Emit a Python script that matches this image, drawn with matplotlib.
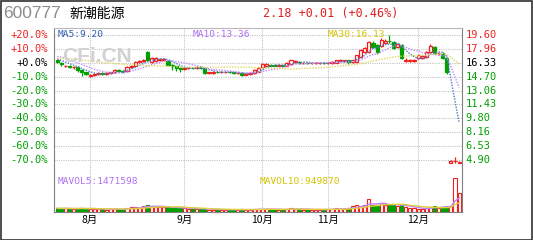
import matplotlib
matplotlib.use("Agg")
import matplotlib.pyplot as plt
from matplotlib.patches import Rectangle
import numpy as np
import pandas as pd

# Data (price levels in yuan, volume in shares)
base_price = 16.33
pct_labels = ["+20.0%", "+10.0%", "+0.0%", "-10.0%", "-20.0%", "-30.0%",
              "-40.0%", "-50.0%", "-60.0%", "-70.0%"]
price_labels = ["19.60", "17.96", "16.33", "14.70", "13.06", "11.43",
                "9.80", "8.16", "6.53", "4.90"]
price_levels = [19.60, 17.96, 16.33, 14.70, 13.06, 11.43, 9.80, 8.16, 6.53, 4.90]

month_start = [8, 31, 50, 66, 88]
month_labels = ["8月", "9月", "10月", "11月", "12月"]

# closes before the visible window, needed for the moving averages
prior_closes = [16.5, 16.6, 16.8, 16.9, 17.0, 16.7, 16.4, 16.3, 16.6, 16.9,
                17.1, 16.8, 16.5, 16.4, 16.6, 16.9, 17.0, 17.2, 16.9, 16.8,
                17.2, 17.5, 17.6, 17.4, 17.3, 17.0, 16.9, 16.7, 16.8]
prior_volumes = [380000, 420000, 350000, 400000, 450000, 380000, 330000, 400000, 360000]

open_ = [16.6, 16.3, 15.9, 16.0, 15.8, 15.8, 15.5, 15.2, 14.8, 14.9,
         15.0, 15.1, 15.0, 15.1, 15.2, 15.5, 15.4, 15.4, 15.8, 16.0,
         16.4, 16.5, 17.6, 16.4, 16.5, 16.6, 16.6, 16.5, 16.1, 15.9,
         15.7, 15.6, 15.7, 15.75, 15.7, 15.8, 15.7, 15.1, 15.15, 15.25,
         15.2, 15.2, 15.3, 15.2, 15.1, 15.15, 14.9, 15.0, 15.1, 15.3,
         15.8, 16.0, 16.1, 16.05, 16.0, 16.05, 16.0, 16.2, 16.4, 16.4,
         16.3, 16.3, 16.25, 16.3, 16.3, 16.35, 16.3, 16.3, 16.35, 16.5,
         16.55, 16.6, 16.4, 16.4, 17.0, 17.6, 17.6, 18.7, 18.4, 18.3,
         18.7, 18.95, 18.8, 18.2, 18.4, 16.5, 16.5, 16.5, 16.9, 16.9,
         17.0, 17.6, 18.2, 17.45, 17.4, 16.9, 4.6, 4.75, 4.6]
close = [16.4, 16.2, 16.0, 15.8, 15.8, 15.5, 15.2, 15.0, 14.9, 15.0,
         15.1, 15.0, 15.1, 15.2, 15.5, 15.4, 15.3, 15.8, 16.0, 16.4,
         16.5, 16.6, 16.6, 16.9, 16.9, 16.8, 16.8, 16.1, 15.9, 15.7,
         15.6, 15.7, 15.75, 15.7, 15.8, 15.7, 15.1, 15.2, 15.25, 15.2,
         15.25, 15.3, 15.2, 15.1, 15.15, 14.9, 15.0, 15.1, 15.5, 15.7,
         16.2, 16.2, 16.0, 16.0, 16.05, 16.0, 16.3, 16.6, 16.5, 16.3,
         16.35, 16.25, 16.3, 16.35, 16.35, 16.3, 16.35, 16.4, 16.6, 16.7,
         16.6, 16.4, 16.6, 17.2, 17.8, 18.1, 18.8, 18.2, 17.6, 19.0,
         18.9, 18.9, 18.1, 18.5, 16.9, 16.7, 16.6, 16.6, 17.2, 17.1,
         17.6, 18.3, 17.5, 17.5, 16.9, 15.2, 4.75, 4.8, 4.65]
high = [16.7, 16.4, 16.1, 16.1, 15.9, 15.9, 15.6, 15.3, 15.0, 15.1,
        15.2, 15.2, 15.2, 15.3, 15.6, 15.6, 15.5, 15.9, 16.1, 16.5,
        16.6, 16.8, 17.7, 17.0, 17.0, 16.9, 16.9, 16.6, 16.2, 16.0,
        15.8, 15.8, 15.85, 15.8, 15.9, 15.9, 15.8, 15.3, 15.35, 15.3,
        15.35, 15.4, 15.35, 15.25, 15.25, 15.2, 15.1, 15.2, 15.6, 15.8,
        16.3, 16.3, 16.2, 16.15, 16.15, 16.1, 16.4, 16.7, 16.6, 16.5,
        16.45, 16.4, 16.4, 16.45, 16.45, 16.45, 16.45, 16.5, 16.7, 16.8,
        16.7, 16.65, 16.7, 17.3, 17.9, 18.2, 18.9, 18.9, 18.5, 19.3,
        19.1, 19.6, 18.9, 18.6, 18.5, 16.9, 16.8, 16.8, 17.3, 17.2,
        17.7, 18.5, 18.3, 17.6, 17.6, 17.0, 4.9, 5.3, 4.8]
low = [16.3, 16.0, 15.8, 15.7, 15.6, 15.3, 14.8, 14.9, 14.6, 14.8,
       14.9, 14.9, 14.9, 15.0, 15.1, 15.3, 15.2, 15.3, 15.7, 15.9,
       16.3, 16.4, 16.5, 16.3, 16.4, 16.5, 16.5, 16.0, 15.5, 15.4,
       15.3, 15.5, 15.6, 15.6, 15.6, 15.6, 15.0, 15.0, 15.05, 15.1,
       15.1, 15.1, 15.1, 15.0, 15.0, 14.8, 14.85, 14.95, 15.0, 15.2,
       15.7, 15.9, 15.9, 15.9, 15.9, 15.9, 15.9, 16.1, 16.3, 16.2,
       16.2, 16.15, 16.15, 16.2, 16.2, 16.2, 16.2, 16.2, 16.3, 16.4,
       16.45, 16.2, 16.3, 16.3, 16.9, 17.5, 17.5, 18.1, 17.4, 18.2,
       18.6, 18.6, 18.0, 18.1, 16.8, 16.4, 16.4, 16.4, 16.8, 16.8,
       16.9, 17.5, 17.4, 17.3, 16.8, 15.0, 4.55, 4.6, 4.55]
volume = [420000, 330000, 410000, 320000, 300000, 400000, 430000, 340000, 310000, 330000,
          300000, 320000, 230000, 300000, 340000, 310000, 290000, 420000, 500000, 520000,
          430000, 620000, 740000, 640000, 530000, 520000, 500000, 540000, 440000, 420000,
          410000, 400000, 330000, 380000, 320000, 300000, 340000, 260000, 240000, 250000,
          230000, 260000, 240000, 250000, 230000, 300000, 240000, 250000, 280000, 300000,
          350000, 330000, 280000, 250000, 240000, 260000, 300000, 420000, 330000, 280000,
          260000, 250000, 240000, 260000, 250000, 240000, 300000, 330000, 420000, 320000,
          310000, 420000, 630000, 740000, 640000, 730000, 1370000, 740000, 720000, 950000,
          730000, 740000, 720000, 640000, 760000, 520000, 420000, 400000, 330000, 320000,
          410000, 520000, 640000, 430000, 520000, 640000, 630000, 3570000, 2000000]

RED = "#f02020"
GREEN = "#00a000"
BLACK = "#000000"
MONO = "DejaVu Sans Mono"
CJK = ["Noto Sans CJK SC", "DejaVu Sans"]

n = len(close)
x = np.arange(n)
all_close = pd.Series(prior_closes + close)
ma5 = all_close.rolling(5).mean().values[-n:]
ma10 = all_close.rolling(10).mean().values[-n:]
ma30 = all_close.rolling(30).mean().values[-n:]
all_vol = pd.Series(prior_volumes + volume)
mavol5 = all_vol.rolling(5).mean().values[-n:]
mavol10 = all_vol.rolling(10).mean().values[-n:]

W, H = 533, 240
fig = plt.figure(figsize=(W / 100, H / 100), dpi=100)
rect = [54 / W, 28 / H, 408 / W, 184 / H]
ax = fig.add_axes(rect)
axv = fig.add_axes(rect, sharex=ax)
axv.patch.set_visible(False)
axv.axis("off")

ax.set_xlim(-0.8, n - 0.3)
ax.set_ylim(-1.215, 20.42)
axv.set_ylim(0, 19.34e6)

# grid
for lv in price_levels:
    ax.axhline(lv, color="#c4c4c4", lw=0.8, ls=(0, (1, 1)), zorder=0)
for m in month_start:
    ax.axvline(m, color="#c4c4c4", lw=0.8, ls=(0, (1, 1)), zorder=0)

# watermark
fig.text(97 / W, 1 - 56 / H, "CFi.CN", fontsize=15, fontweight="bold",
         family="Liberation Sans", color="#d2d2d2", ha="center", va="center",
         zorder=0.5)

# candles
for i in range(n):
    o, c, h, l = open_[i], close[i], high[i], low[i]
    up = c >= o
    col = RED if up else GREEN
    ax.vlines(i, l, h, color=col, lw=0.9, zorder=3)
    body = max(abs(c - o), 0.03)
    ax.bar(i, body, bottom=min(o, c), width=0.75,
           color="white" if up else col, edgecolor=col, linewidth=0.9, zorder=4)

ax.plot(x, ma5, color="#4a7ec8", lw=1.0, ls=(0, (1, 1)), zorder=5)
ax.plot(x, ma10, color="#c48cff", lw=1.0, ls=(0, (1, 1)), zorder=5)
ax.plot(x, ma30, color="#e0d860", lw=1.0, ls=(0, (1, 1)), zorder=5)

# volume
for i in range(n):
    up = close[i] >= open_[i]
    col = RED if up else GREEN
    axv.bar(i, volume[i], width=0.75, color="white" if up else col,
            edgecolor=col, linewidth=0.8, zorder=3)
axv.plot(x, mavol5, color="#c080ff", lw=1.0, zorder=4)
axv.plot(x, mavol10, color="#e0d040", lw=1.0, zorder=4)

# axes styling
ax.set_xticks([])
ax.set_yticks([])
for s in ["left", "right", "bottom"]:
    ax.spines[s].set_color("#808080")
ax.spines["top"].set_color("#b8b8b8")

ytr = ax.get_yaxis_transform()
for lv, pl, rl in zip(price_levels, pct_labels, price_labels):
    if lv > base_price + 0.01:
        col = RED
    elif abs(lv - base_price) < 0.01:
        col = BLACK
    else:
        col = GREEN
    ax.text(-0.015, lv, pl, transform=ytr, ha="right", va="center",
            fontsize=7.5, family=MONO, color=col)
    ax.text(1.008, lv, rl, transform=ytr, ha="left", va="center",
            fontsize=7.5, family=MONO, color=col)

xtr = ax.get_xaxis_transform()
for m, lab in zip(month_start, month_labels):
    ax.text(m, -0.045, lab, transform=xtr, ha="center", va="center",
            fontsize=7.5, family=CJK, color=BLACK)

# MA captions
ax.text(4 / 408, 1 - 7 / 184, "MA5:9.20", transform=ax.transAxes, fontsize=6.8,
        family=MONO, color="#2f5fb0", va="center", ha="left", zorder=6)
ax.text(139 / 408, 1 - 7 / 184, "MA10:13.36", transform=ax.transAxes, fontsize=6.8,
        family=MONO, color="#b070f0", va="center", ha="left", zorder=6)
ax.text(274 / 408, 1 - 7 / 184, "MA30:16.13", transform=ax.transAxes, fontsize=6.8,
        family=MONO, color="#d4c400", va="center", ha="left", zorder=6)
ax.text(4 / 408, 1 - 154 / 184, "MAVOL5:1471598", transform=ax.transAxes, fontsize=6.8,
        family=MONO, color="#b070f0", va="center", ha="left", zorder=6)
ax.text(206 / 408, 1 - 154 / 184, "MAVOL10:949870", transform=ax.transAxes, fontsize=6.8,
        family=MONO, color="#d4c400", va="center", ha="left", zorder=6)

# header
fig.text(3 / W, 1 - 14 / H, "600777", fontsize=12.5, family="Liberation Sans",
         color="#8c8c8c", va="center", ha="left")
fig.text(69 / W, 1 - 14 / H, "新潮能源", fontsize=10, family=CJK,
         color=BLACK, va="center", ha="left")
fig.text(263 / W, 1 - 14 / H, "2.18 +0.01 (+0.46%)", fontsize=8.5, family=MONO,
         color="#e02020", va="center", ha="left")

fig.patches.append(Rectangle((0.5 / W, 0.5 / H), 1 - 1.5 / W, 1 - 1.5 / H,
                             transform=fig.transFigure, fill=False,
                             edgecolor="#303030", lw=1.2))

fig.savefig("out.png", dpi=100)
